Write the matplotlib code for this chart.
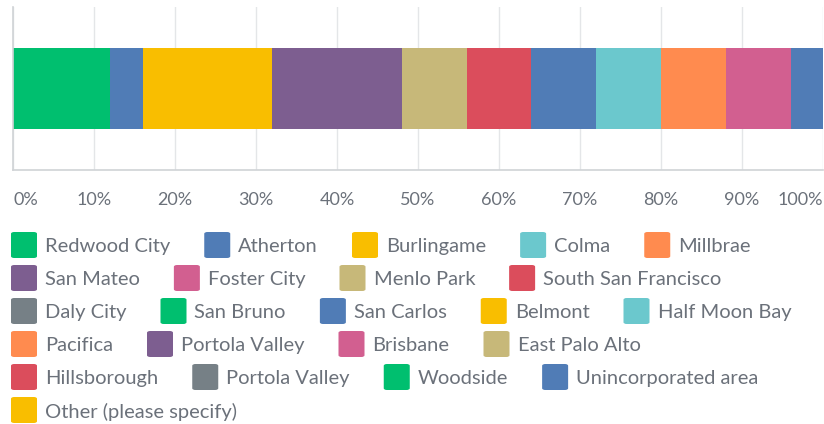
import matplotlib
matplotlib.use("Agg")
import matplotlib.pyplot as plt
from matplotlib.patches import FancyBboxPatch

# response shares (percent of respondents)
cities = [
    "Redwood City", "Atherton", "Burlingame", "Colma", "Millbrae",
    "San Mateo", "Foster City", "Menlo Park", "South San Francisco",
    "Daly City", "San Bruno", "San Carlos", "Belmont", "Half Moon Bay",
    "Pacifica", "Portola Valley", "Brisbane", "East Palo Alto",
    "Hillsborough", "Portola Valley", "Woodside", "Unincorporated area",
    "Other (please specify)",
]
shares = [12, 4, 16, 0, 0, 16, 0, 8, 8, 0, 0, 8, 0, 8, 8, 0, 8, 0, 0, 0, 0, 4, 0]
colors = [
    "#00BF6F", "#507CB6", "#F9BE00", "#6BC8CD", "#FF8B4F",
    "#7D5E90", "#D25F90", "#C7B879", "#DB4D5C",
    "#768086", "#00BF6F", "#507CB6", "#F9BE00", "#6BC8CD",
    "#FF8B4F", "#7D5E90", "#D25F90", "#C7B879",
    "#DB4D5C", "#768086", "#00BF6F", "#507CB6",
    "#F9BE00",
]
tick_vals = [0, 10, 20, 30, 40, 50, 60, 70, 80, 90, 100]
tick_labels = [f"{v}%" for v in tick_vals]
legend_rows = [5, 4, 5, 4, 4, 1]

W, H = 824, 424
FONT = "Lato"
TEXT_COLOR = "#6B717A"

fig = plt.figure(figsize=(W / 100, H / 100), dpi=100)
ax = fig.add_axes([13 / W, 1 - 170 / H, 810 / W, 163 / H])

left = 0
for val, col in zip(shares, colors):
    if val > 0:
        ax.barh(0, val, left=left, height=0.5, color=col, linewidth=0)
    left += val

ax.set_xlim(0, 100)
ax.set_ylim(-0.5, 0.5)
ax.set_yticks([])
ax.set_xticks(tick_vals)
ax.set_xticklabels([])
ax.tick_params(axis="x", length=0)
ax.grid(axis="x", color="#E4E6E8", linewidth=1)
ax.set_axisbelow(True)
for side in ["top", "right"]:
    ax.spines[side].set_visible(False)
for side in ["left", "bottom"]:
    ax.spines[side].set_color("#D0D3D6")
    ax.spines[side].set_linewidth(1.2)

# tick labels: first left-aligned, last right-aligned, 30px under the axis
for v, lab in zip(tick_vals, tick_labels):
    ha = "left" if v == 0 else ("right" if v == 100 else "center")
    ax.text(v, -0.5 - 30 / 163, lab, ha=ha, va="center", fontsize=13,
            family=FONT, color=TEXT_COLOR, clip_on=False)

# flowing legend in pixel coordinates
fig.canvas.draw()
renderer = fig.canvas.get_renderer()
sq = 26
row_y = 245
row_gap = 33
idx = 0
for n in legend_rows:
    x = 11
    for _ in range(n):
        fig.patches.append(FancyBboxPatch(
            (x / W, (H - row_y - sq / 2) / H), sq / W, sq / H,
            boxstyle="round,pad=0,rounding_size=0.004",
            transform=fig.transFigure, facecolor=colors[idx], edgecolor="none"))
        t = fig.text((x + 34) / W, (H - row_y) / H, cities[idx], ha="left",
                     va="center_baseline", fontsize=14.5, family=FONT, color=TEXT_COLOR)
        bb = t.get_window_extent(renderer)
        x = x + 34 + bb.width + 34
        idx += 1
    row_y += row_gap

fig.savefig("out.png", dpi=100)
